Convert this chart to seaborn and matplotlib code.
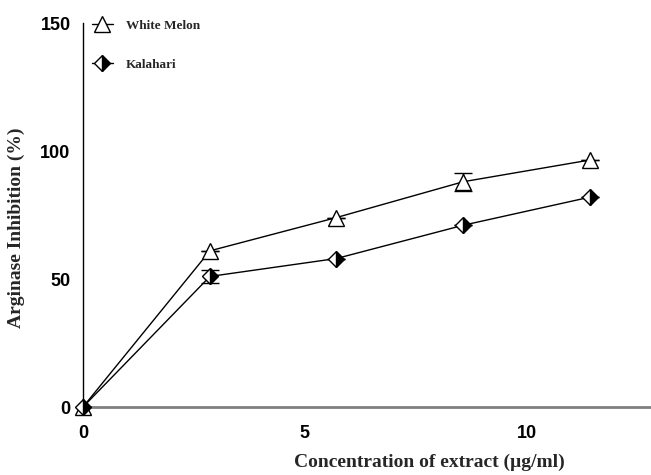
import matplotlib
matplotlib.use("Agg")
import matplotlib.pyplot as plt
import seaborn as sns
import pandas as pd

# Concentration of extract (µg/ml)
concentration = [0, 2.86, 5.71, 8.57, 11.43]
# Arginase inhibition (%) per extract
white_melon = [0, 61, 74, 88, 96.5]
kalahari = [0, 51, 58, 71, 82]
# Error bar half-widths
white_melon_err = [0, 0, 0, 3.5, 0]
kalahari_err = [0, 2.7, 0, 0, 0]

series_names = ["White Melon", "Kalahari"]
y_ticks = [0, 50, 100, 150]
x_ticks = [0, 5, 10]

sns.set_theme(style="white")
plt.rcParams["font.family"] = ["Liberation Sans", "DejaVu Sans"]

W, H = 651, 475
fig = plt.figure(figsize=(W / 100, H / 100), dpi=100)
ax = fig.add_axes([83 / W, 68 / H, 1 - 83 / W, (407 - 23) / H])

df = pd.DataFrame({"x": concentration, "wm": white_melon, "kal": kalahari})

sns.lineplot(data=df, x="x", y="wm", ax=ax, color="black", lw=1.0,
             marker="^", markersize=11, markerfacecolor="white",
             markeredgecolor="black", markeredgewidth=1.0,
             label=series_names[0], clip_on=False, zorder=3)
sns.lineplot(data=df, x="x", y="kal", ax=ax, color="black", lw=1.0,
             marker="D", markersize=8, fillstyle="right",
             markerfacecolor="black", markerfacecoloralt="white",
             markeredgecolor="black", markeredgewidth=1.0,
             label=series_names[1], clip_on=False, zorder=3)

ax.errorbar(concentration, white_melon, yerr=white_melon_err, fmt="none",
            ecolor="black", elinewidth=1.0, capsize=6.5, capthick=1.0, zorder=2)
ax.errorbar(concentration, kalahari, yerr=kalahari_err, fmt="none",
            ecolor="black", elinewidth=1.0, capsize=6.5, capthick=1.0, zorder=2)

ax.set_xlim(0, 12.8)
ax.set_ylim(0, 150)
ax.set_xticks(x_ticks)
ax.set_yticks(y_ticks)

for side in ("top", "right"):
    ax.spines[side].set_visible(False)
ax.spines["left"].set_color("black")
ax.spines["left"].set_linewidth(1.0)
ax.spines["bottom"].set_color("#808080")
ax.spines["bottom"].set_linewidth(2.0)

ax.tick_params(axis="both", which="major", direction="out", length=5,
               width=1.0, colors="black", labelsize=13, pad=4)
ax.tick_params(axis="x", color="#808080", width=1.5, pad=8)
for lab in ax.get_xticklabels() + ax.get_yticklabels():
    lab.set_fontweight("bold")

serif = ["Liberation Serif", "DejaVu Serif"]
ax.set_xlabel("Concentration of extract (µg/ml)", fontfamily=serif,
              fontweight="bold", fontsize=14)
ax.set_ylabel("Arginase Inhibition (%)", fontfamily=serif,
              fontweight="bold", fontsize=14)
ax.xaxis.set_label_coords((429 - 83) / (W - 83), -(454 - 407) / 384)
ax.yaxis.set_label_coords(-(83 - 25) / (W - 83), (407 - 228) / 384)

ax.legend(loc="upper left", bbox_to_anchor=(80 / W, 1 - 8 / H),
          bbox_transform=fig.transFigure, frameon=False,
          handlelength=1.6, handletextpad=1.0, labelspacing=2.0,
          prop={"family": serif, "weight": "bold", "size": 9.5})

fig.savefig("out.png", dpi=100, facecolor="white")
